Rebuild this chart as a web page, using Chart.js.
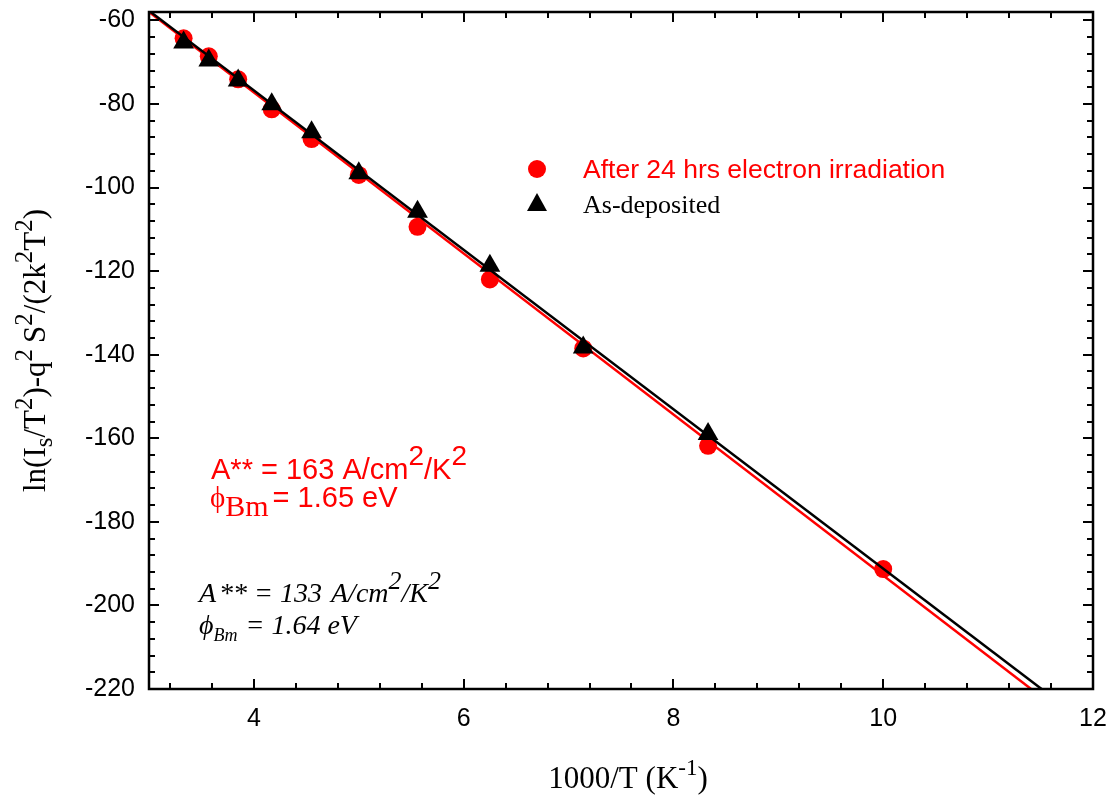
<!DOCTYPE html>
<html>
<head>
<meta charset="utf-8">
<script src="https://cdn.jsdelivr.net/npm/chart.js@4.4.0/dist/chart.umd.min.js"></script>
<style>
  html, body { margin: 0; padding: 0; background: #fff; }
  #wrap { width: 1114px; height: 805px; }
</style>
</head>
<body>
<div id="wrap"><canvas id="chart" width="1114" height="805"></canvas></div>
<script>
// 1000/T values (K^-1)
const invT = [3.33, 3.57, 3.85, 4.17, 4.55, 5.00, 5.56, 6.25, 7.14, 8.33, 10.0];
// After 24 hrs electron irradiation
const irradiated = [-64.3, -68.6, -74.1, -81.3, -88.4, -97.0, -109.4, -122.0, -138.5, -161.8, -191.3];
// As-deposited (no point at 10)
const asDeposited = [-65.3, -69.6, -74.4, -80.1, -86.8, -96.6, -105.8, -118.7, -138.3, -159.0];
// fitted lines, end points
const irradiatedFitX = [3, 11.41];
const irradiatedFitY = [-58.0, -220];
const depositedFitX = [3, 11.51];
const depositedFitY = [-57.7, -220];

const xTickLabels = [4, 6, 8, 10, 12];
const yTickLabels = [-60, -80, -100, -120, -140, -160, -180, -200, -220];

const toPoints = (xs, ys) => ys.map((y, i) => ({ x: xs[i], y: y }));

const RED = '#ff0000';

// draw a run of text pieces with different fonts / offsets
function drawRich(ctx, parts, x, y) {
  let cx = x;
  parts.forEach(p => {
    ctx.font = p.font;
    ctx.fillStyle = p.color || '#000';
    ctx.fillText(p.t, cx, y + (p.dy || 0));
    cx += ctx.measureText(p.t).width + (p.gap || 0);
  });
}

function richWidth(ctx, parts) {
  let w = 0;
  parts.forEach(p => { ctx.font = p.font; w += ctx.measureText(p.t).width + (p.gap || 0); });
  return w;
}

const frameAndTicks = {
  id: 'frameAndTicks',
  afterDatasetsDraw(chart) {
    const { ctx, chartArea: a, scales: { x, y } } = chart;
    ctx.save();
    ctx.strokeStyle = '#000';
    ctx.lineWidth = 2;
    ctx.beginPath();
    // x ticks, bottom and top, pointing inward
    for (let v = 3.2; v <= 11.81; v += 0.4) {
      const px = Math.round(x.getPixelForValue(v));
      const major = Math.abs(v / 2 - Math.round(v / 2)) < 0.01;
      const len = major ? 10 : 6;
      ctx.moveTo(px, a.bottom); ctx.lineTo(px, a.bottom - len);
      ctx.moveTo(px, a.top); ctx.lineTo(px, a.top + len);
    }
    // y ticks, left and right
    for (let v = -216; v <= -60; v += 4) {
      const py = Math.round(y.getPixelForValue(v));
      const major = v % 20 === 0;
      const len = major ? 10 : 6;
      ctx.moveTo(a.left, py); ctx.lineTo(a.left + len, py);
      ctx.moveTo(a.right, py); ctx.lineTo(a.right - len, py);
    }
    ctx.stroke();
    ctx.lineWidth = 2.5;
    ctx.strokeRect(a.left, a.top, a.right - a.left, a.bottom - a.top);
    ctx.restore();
  },
  afterDraw(chart) {
    const { ctx, chartArea: a } = chart;
    ctx.save();
    ctx.textBaseline = 'alphabetic';

    // legend
    ctx.fillStyle = RED;
    ctx.beginPath();
    ctx.arc(537, 169, 9, 0, Math.PI * 2);
    ctx.fill();
    ctx.fillStyle = '#000';
    ctx.beginPath();
    ctx.moveTo(537, 193); ctx.lineTo(547, 211); ctx.lineTo(527, 211);
    ctx.closePath();
    ctx.fill();
    drawRich(ctx, [{ t: 'After 24 hrs electron irradiation', font: '26.5px "Liberation Sans"', color: RED }], 583, 178);
    drawRich(ctx, [{ t: 'As-deposited', font: '26px "Liberation Serif"', color: '#000' }], 583, 213);

    // red annotation
    const sans = '29px "Liberation Sans"';
    const sansSup = '28px "Liberation Sans"';
    drawRich(ctx, [
      { t: 'A** = 163 A/cm', font: sans, color: RED },
      { t: '2', font: sansSup, color: RED, dy: -14 },
      { t: '/K', font: sans, color: RED },
      { t: '2', font: sansSup, color: RED, dy: -14 }
    ], 211, 479);
    drawRich(ctx, [
      { t: '\u03d5', font: '29px "Liberation Serif"', color: RED },
      { t: 'Bm', font: '30px "Liberation Serif"', color: RED, dy: 9, gap: 4 },
      { t: '= 1.65 eV', font: sans, color: RED }
    ], 210, 507);

    // black annotation (italic)
    const it = 'italic 28px "Liberation Serif"';
    const itSup = 'italic 26px "Liberation Serif"';
    drawRich(ctx, [
      { t: 'A', font: it, gap: 3 }, { t: '** = 133 ', font: it, gap: 2 },
      { t: 'A/cm', font: it },
      { t: '2', font: itSup, dy: -13 },
      { t: '/K', font: it },
      { t: '2', font: itSup, dy: -13 }
    ], 199, 602);
    drawRich(ctx, [
      { t: '\u03d5', font: it },
      { t: 'Bm', font: 'italic 18px "Liberation Serif"', dy: 7, gap: 8 },
      { t: '= 1.64 eV', font: it }
    ], 199, 634);

    // x axis title
    const serif = '31px "Liberation Serif"';
    const serifSup = '23px "Liberation Serif"';
    const xt = [
      { t: '1000/T (K', font: serif },
      { t: '-1', font: serifSup, dy: -13 },
      { t: ')', font: serif }
    ];
    const xw = richWidth(ctx, xt);
    drawRich(ctx, xt, (a.left + a.right) / 2 - xw / 2 + 7, 788);

    // y axis title, rotated
    const ySup = '25px "Liberation Serif"';
    const yt = [
      { t: 'ln(I', font: serif },
      { t: 's', font: ySup, dy: 7 },
      { t: '/T', font: serif },
      { t: '2', font: ySup, dy: -13 },
      { t: ')-q', font: serif },
      { t: '2', font: ySup, dy: -13, gap: 6 },
      { t: 'S', font: serif },
      { t: '2', font: ySup, dy: -13 },
      { t: '/(2k', font: serif },
      { t: '2', font: ySup, dy: -13 },
      { t: 'T', font: serif },
      { t: '2', font: ySup, dy: -13 },
      { t: ')', font: serif }
    ];
    const yw = richWidth(ctx, yt);
    ctx.translate(45, (a.top + a.bottom) / 2);
    ctx.rotate(-Math.PI / 2);
    drawRich(ctx, yt, -yw / 2, 0);
    ctx.restore();
  }
};

new Chart(document.getElementById('chart'), {
  type: 'scatter',
  data: {
    datasets: [
      {
        label: 'As-deposited',
        data: toPoints(invT, asDeposited),
        pointStyle: 'triangle',
        pointRadius: 12,
        backgroundColor: '#000',
        borderColor: '#000',
        borderWidth: 0,
        order: 1
      },
      {
        label: 'As-deposited fit',
        data: toPoints(depositedFitX, depositedFitY),
        showLine: true,
        pointRadius: 0,
        borderColor: '#000',
        borderWidth: 2.5,
        order: 2
      },
      {
        label: 'Irradiated fit',
        data: toPoints(irradiatedFitX, irradiatedFitY),
        showLine: true,
        pointRadius: 0,
        borderColor: RED,
        borderWidth: 2.5,
        order: 3
      },
      {
        label: 'After 24 hrs electron irradiation',
        data: toPoints(invT, irradiated),
        pointStyle: 'circle',
        pointRadius: 9,
        backgroundColor: RED,
        borderColor: RED,
        borderWidth: 0,
        order: 4
      }
    ]
  },
  options: {
    responsive: false,
    animation: false,
    devicePixelRatio: 1,
    layout: { padding: { top: 7, right: 21, left: 0, bottom: 0 } },
    plugins: {
      legend: { display: false },
      tooltip: { enabled: false }
    },
    scales: {
      x: {
        type: 'linear',
        min: 3,
        max: 12,
        afterBuildTicks: (s) => { s.ticks = xTickLabels.map(v => ({ value: v })); },
        afterFit: (s) => { s.height = 116; s.paddingLeft = 0; s.paddingRight = 0; },
        grid: { display: false, drawTicks: false },
        border: { display: false },
        ticks: { color: '#000', padding: 15, font: { family: 'Liberation Sans', size: 25 }, maxRotation: 0 }
      },
      y: {
        type: 'linear',
        min: -220,
        max: -58,
        afterBuildTicks: (s) => { s.ticks = yTickLabels.map(v => ({ value: v })); },
        afterFit: (s) => { s.width = 149; s.paddingTop = 0; s.paddingBottom = 0; },
        grid: { display: false, drawTicks: false },
        border: { display: false },
        ticks: { color: '#000', padding: 14, font: { family: 'Liberation Sans', size: 25 } }
      }
    }
  },
  plugins: [frameAndTicks]
});
</script>
</body>
</html>
